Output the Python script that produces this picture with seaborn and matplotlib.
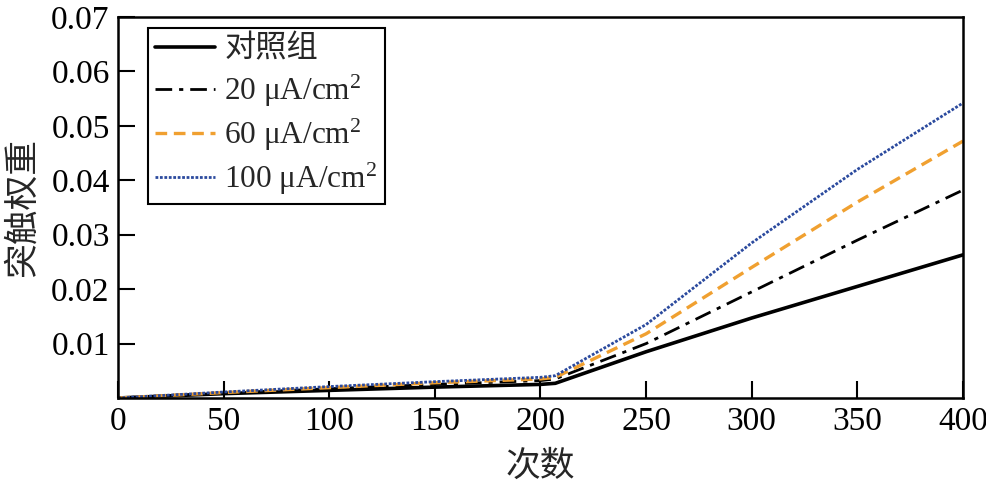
import matplotlib
matplotlib.use("Agg")
import matplotlib.pyplot as plt
import seaborn as sns
import pandas as pd

# ---- data ----
steps = [0, 50, 100, 150, 200, 207, 250, 300, 350, 400]
control = [0, 0.0008, 0.0014, 0.0020, 0.0025, 0.0027, 0.0085, 0.0147, 0.0205, 0.0263]
i20 = [0, 0.0009, 0.0017, 0.0025, 0.0032, 0.0035, 0.0100, 0.0195, 0.0290, 0.0382]
i60 = [0, 0.0010, 0.0019, 0.0028, 0.0035, 0.0038, 0.0118, 0.0240, 0.0360, 0.0472]
i100 = [0, 0.0011, 0.0021, 0.0030, 0.0038, 0.0041, 0.0135, 0.0285, 0.0420, 0.0542]
series_names = ["对照组", "20 μA/cm$^2$", "60 μA/cm$^2$", "100 μA/cm$^2$"]
x_ticks = [0, 50, 100, 150, 200, 250, 300, 350, 400]
y_ticks = [0.01, 0.02, 0.03, 0.04, 0.05, 0.06, 0.07]
y_ticklabels = ["0.01", "0.02", "0.03", "0.04", "0.05", "0.06", "0.07"]

sns.set_theme(style="ticks")
plt.rcParams['font.family'] = ['Liberation Serif', 'Noto Sans CJK SC', 'DejaVu Sans']
plt.rcParams['mathtext.fontset'] = 'custom'
plt.rcParams['mathtext.rm'] = 'Liberation Serif'
plt.rcParams['mathtext.it'] = 'Liberation Serif:italic'
plt.rcParams['mathtext.default'] = 'rm'

fig = plt.figure(figsize=(9.87, 4.92), dpi=100)
ax = fig.add_axes([118/987, 1-398/492, (963-118)/987, (398-17)/492])

styles = [
    dict(color="black", linestyle="-", linewidth=2.6),
    dict(color="black", linestyle=(0, (6, 2.5, 1.5, 2.5)), linewidth=2.0),
    dict(color="#f0a030", linestyle=(0, (3.5, 2)), linewidth=2.4),
    dict(color="#2b4a9e", linestyle=(0, (1, 0.6)), linewidth=2.0),
]
for name, vals, st in zip(series_names, [control, i20, i60, i100], styles):
    df = pd.DataFrame({"x": steps, "y": vals})
    sns.lineplot(data=df, x="x", y="y", ax=ax, label=name, **st)

ax.set_xlim(0, 400)
ax.set_ylim(0, 0.07)
ax.set_xticks(x_ticks)
ax.set_xticklabels([str(v) for v in x_ticks])
ax.set_yticks(y_ticks)
ax.set_yticklabels(y_ticklabels)
ax.tick_params(direction="in", length=12, width=1.5, labelsize=24, pad=6, colors="black")
for s in ax.spines.values():
    s.set_linewidth(1.8)
    s.set_color("black")
ax.set_xlabel("次数", fontsize=25, labelpad=10)
ax.set_ylabel("突触权重", fontsize=25, labelpad=8)

leg = ax.legend(loc="upper left", bbox_to_anchor=(0.035, 0.972), fontsize=22.5,
                frameon=True, fancybox=False, edgecolor="black", framealpha=1,
                handlelength=1.9, handletextpad=0.3, borderpad=0.25, labelspacing=0.25,
                borderaxespad=0)
leg.get_frame().set_linewidth(1.5)

fig.savefig("out.png", dpi=100)
